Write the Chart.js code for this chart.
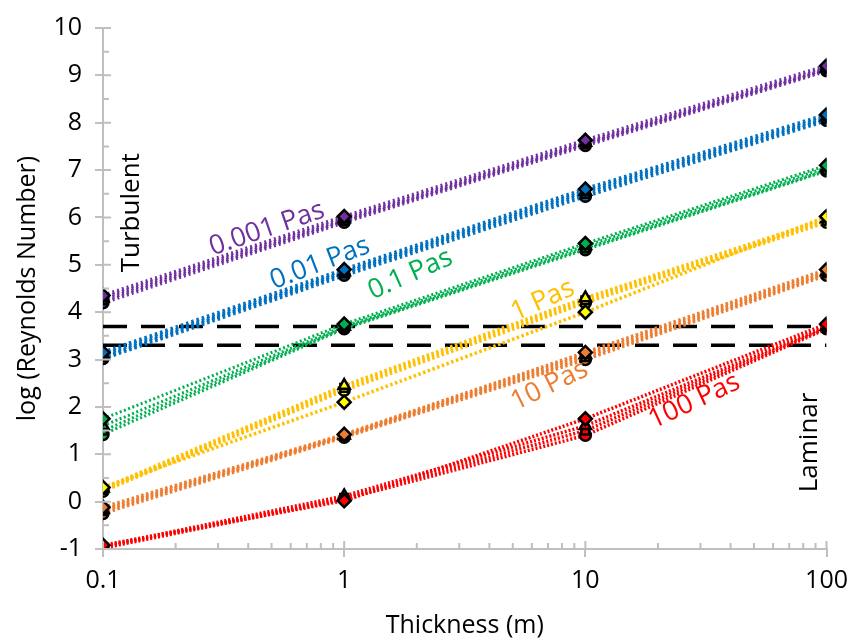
<!DOCTYPE html>
<html>
<head>
<meta charset="utf-8">
<script src="https://cdn.jsdelivr.net/npm/chart.js@4.4.1/dist/chart.umd.min.js"></script>
<style>
  html, body { margin: 0; padding: 0; background: #fff; }
  #wrap { width: 857px; height: 641px; position: relative; }
</style>
</head>
<body>
<div id="wrap"><canvas id="reChart"></canvas></div>
<script>
// thickness (m) on the x axis
const thickness = [0.1, 1, 10, 100];
const xTicks = [0.1, 1, 10, 100];
const yTicks = [-1, 0, 1, 2, 3, 4, 5, 6, 7, 8, 9, 10];

// log(Re) for each viscosity, four runs each (diamond, triangle, square, circle)
const pas0001 = [
    [4.35, 6.02, 7.63, 9.20],
    [4.30, 5.97, 7.58, 9.15],
    [4.25, 5.93, 7.55, 9.12],
    [4.20, 5.90, 7.52, 9.10]
];
const pas001 = [
    [3.15, 4.90, 6.60, 8.17],
    [3.10, 4.85, 6.55, 8.12],
    [3.05, 4.82, 6.50, 8.08],
    [3.02, 4.78, 6.45, 8.05]
];
const pas01 = [
    [1.75, 3.75, 5.45, 7.10],
    [1.60, 3.70, 5.40, 7.05],
    [1.50, 3.67, 5.35, 7.00],
    [1.42, 3.65, 5.32, 6.98]
];
const pas1 = [
    [0.30, 2.10, 4.00, 6.02],
    [0.28, 2.45, 4.30, 5.97],
    [0.25, 2.40, 4.25, 5.93],
    [0.22, 2.35, 4.20, 5.90]
];
const pas10 = [
    [-0.12, 1.42, 3.15, 4.90],
    [-0.17, 1.40, 3.10, 4.85],
    [-0.20, 1.38, 3.05, 4.82],
    [-0.25, 1.36, 3.00, 4.78]
];
const pas100 = [
    [-0.92, 0.02, 1.75, 3.75],
    [-0.94, 0.12, 1.60, 3.70],
    [-0.96, 0.08, 1.50, 3.67],
    [-0.98, 0.05, 1.40, 3.65]
];

// transition band
const turbulentLimit = 3.7;
const laminarLimit = 3.3;

const FONT = "'Open Sans', 'DejaVu Sans', sans-serif";

const groups = [
    { data: pas0001, line: '#7030A0', fill: '#7030A0', width: 4, dash: [2, 3] },
    { data: pas001,  line: '#0070C0', fill: '#0070C0', width: 4, dash: [2.5, 3] },
    { data: pas01,   line: '#00B050', fill: '#00B050', width: 3, dash: [2, 2.5] },
    { data: pas1,    line: '#FFC000', fill: '#FFFF00', width: 3.5, dash: [2.5, 2.5] },
    { data: pas10,   line: '#ED7D31', fill: '#ED7D31', width: 3.5, dash: [2.5, 2.5] },
    { data: pas100,  line: '#FF0000', fill: '#FF0000', width: 3.5, dash: [2, 2] }
];
const markerStyles = ['rectRot', 'triangle', 'rect', 'circle'];
const markerSizes = [6.5, 6.5, 5.5, 5.5];

const notes = [
    { text: '0.001 Pas', x: 0.478, y: 5.76, angle: -19, color: '#7030A0', size: 27 },
    { text: '0.01 Pas',  x: 0.794, y: 5.03, angle: -21, color: '#0070C0', size: 27 },
    { text: '0.1 Pas',   x: 1.88,  y: 4.80, angle: -24, color: '#00B050', size: 27 },
    { text: '1 Pas',     x: 6.66,  y: 4.25, angle: -24, color: '#FFC000', size: 27 },
    { text: '10 Pas',    x: 7.1,   y: 2.45, angle: -26, color: '#ED7D31', size: 27 },
    { text: '100 Pas',   x: 28.3,  y: 2.12, angle: -25, color: '#FF0000', size: 27 },
    { text: 'Turbulent', x: 0.132, y: 6.1,  angle: -90, color: '#000000', size: 26 },
    { text: 'Laminar',   x: 85,    y: 1.25, angle: -90, color: '#000000', size: 26 }
];

function buildDatasets() {
    const sets = [];
    groups.forEach(g => {
        g.data.forEach((run, i) => {
            sets.push({
                data: thickness.map((t, k) => ({ x: t, y: run[k] })),
                showLine: true,
                borderColor: g.line,
                borderWidth: g.width,
                borderDash: g.dash,
                borderCapStyle: 'butt',
                pointStyle: markerStyles[i],
                pointRadius: markerSizes[i],
                pointBackgroundColor: g.fill,
                pointBorderColor: '#000',
                pointBorderWidth: 2.5,
                order: 1
            });
        });
    });
    [turbulentLimit, laminarLimit].forEach(v => {
        sets.push({
            data: [{ x: thickness[0], y: v }, { x: thickness[thickness.length - 1], y: v }],
            showLine: true,
            borderColor: '#000',
            borderWidth: 3.5,
            borderDash: [24, 14],
            pointRadius: 0,
            order: 5
        });
    });
    return sets;
}

// inner / minor tick marks plus the text notes
const decor = {
    id: 'decor',
    afterDraw(chart) {
        const { ctx, scales: { x, y } } = chart;
        ctx.save();
        ctx.strokeStyle = '#BFBFBF';
        ctx.lineWidth = 2;
        ctx.beginPath();
        for (let v = -1; v <= 10; v += 0.5) {
            const py = y.getPixelForValue(v);
            const len = Number.isInteger(v) ? 8 : 6;
            ctx.moveTo(x.left, py); ctx.lineTo(x.left + len, py);
        }
        for (let d = 0.1; d < 100; d *= 10) {
            for (let m = 1; m <= 10; m++) {
                const px = x.getPixelForValue(d * m);
                const len = (m === 1 || m === 10) ? 8 : 6;
                ctx.moveTo(px, y.bottom); ctx.lineTo(px, y.bottom - len);
            }
        }
        ctx.stroke();
        ctx.restore();
    },
    afterDatasetsDraw(chart) {
        const { ctx, scales: { x, y } } = chart;
        ctx.save();
        ctx.textAlign = 'center';
        ctx.textBaseline = 'middle';
        notes.forEach(n => {
            ctx.save();
            ctx.font = `${n.size}px ${FONT}`;
            ctx.translate(x.getPixelForValue(n.x), y.getPixelForValue(n.y));
            ctx.rotate(n.angle * Math.PI / 180);
            ctx.fillStyle = n.color;
            ctx.fillText(n.text, 0, 0);
            ctx.restore();
        });
        ctx.restore();
    }
};

function renderChart() {
    const ctx = document.getElementById('reChart').getContext('2d');
    new Chart(ctx, {
        type: 'scatter',
        data: { datasets: buildDatasets() },
        options: {
            responsive: true, maintainAspectRatio: false, animation: false,
            layout: { padding: { top: 17, right: 27, left: 0, bottom: 0 } },
            plugins: { legend: { display: false }, tooltip: { enabled: false } },
            scales: {
                x: {
                    type: 'logarithmic', min: 0.1, max: 100,
                    afterBuildTicks: s => { s.ticks = xTicks.map(v => ({ value: v })); },
                    afterFit: s => { s.height = 92; },
                    ticks: { color: '#000', font: { family: FONT, size: 25 }, padding: 9,
                             callback: v => String(v) },
                    grid: { display: true, drawOnChartArea: false, tickLength: 8, color: '#BFBFBF', lineWidth: 2 },
                    border: { color: '#BFBFBF', width: 2 },
                    title: { display: true, text: 'Thickness (m)', color: '#000',
                             font: { family: FONT, size: 25 }, padding: { top: 4, bottom: 0 } }
                },
                y: {
                    min: -1, max: 10,
                    afterBuildTicks: s => { s.ticks = yTicks.map(v => ({ value: v })); },
                    afterFit: s => { s.width = 103; },
                    ticks: { color: '#000', font: { family: FONT, size: 25 }, padding: 13 },
                    grid: { display: true, drawOnChartArea: false, tickLength: 8, color: '#BFBFBF', lineWidth: 2 },
                    border: { color: '#BFBFBF', width: 2 },
                    title: { display: true, text: 'log (Reynolds Number)', color: '#000',
                             font: { family: FONT, size: 25 }, padding: { top: 13, bottom: 0 } }
                }
            }
        },
        plugins: [decor]
    });
}

window.onload = () => { renderChart(); };
</script>
</body>
</html>
